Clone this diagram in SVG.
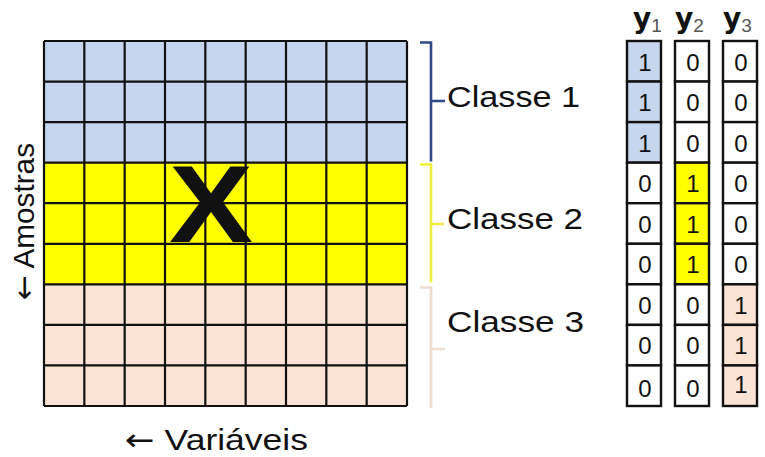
<svg xmlns="http://www.w3.org/2000/svg" width="765" height="457" viewBox="0 0 765 457">
<style>
.grid{fill:none;stroke:#111;stroke-width:2.2}
.cell{stroke:#111;stroke-width:2.4}
.dig{font-family:"Liberation Sans",Arial,sans-serif;font-size:24px;fill:#111;text-anchor:middle}
.lbl{font-family:"Liberation Sans",Arial,sans-serif;font-size:30px;fill:#111}
.arr{font-family:"DejaVu Sans",sans-serif;font-weight:normal}
.hy{font-family:"DejaVu Sans",sans-serif;font-weight:bold;font-size:28px;fill:#111}
.hs{font-family:"Liberation Sans",Arial,sans-serif;font-size:19px;fill:#555}
.br{fill:none;stroke-width:2.6;stroke-linejoin:miter}
.blue{fill:#C6D6EE}
.yel{fill:#FFFF00}
.pink{fill:#FBE4D6}
.wh{fill:#FFFFFF}
</style>
<rect width="765" height="457" fill="#FFFFFF"/>
<g id="matrix-X">
<rect x="44" y="41" width="363" height="121.67" class="blue"/>
<rect x="44" y="162.67" width="363" height="121.67" class="yel"/>
<rect x="44" y="284.33" width="363" height="121.67" class="pink"/>
<path class="grid" d="M44 41V406M84.33 41V406M124.67 41V406M165 41V406M205.33 41V406M245.67 41V406M286 41V406M326.33 41V406M366.67 41V406M407 41V406M44 41H407M44 81.56H407M44 122.11H407M44 162.67H407M44 203.22H407M44 243.78H407M44 284.33H407M44 324.89H407M44 365.44H407M44 406H407"/>
<text x="211" y="242" font-family="Liberation Sans,Arial,sans-serif" font-weight="bold" font-size="110" fill="#111" text-anchor="middle" textLength="84" lengthAdjust="spacingAndGlyphs">X</text>
</g>
<g id="axis-amostras">
<text class="lbl" transform="translate(34,300) rotate(-90)" textLength="157" lengthAdjust="spacingAndGlyphs"><tspan class="arr">←</tspan> Amostras</text>
</g>
<g id="axis-variaveis">
<text class="lbl" x="125" y="450" font-size="28" textLength="183" lengthAdjust="spacingAndGlyphs"><tspan class="arr">←</tspan> Variáveis</text>
</g>
<g id="connectors">
<path class="br" stroke="#2E4A88" d="M420 42.5H431V161.5M431 101H445"/>
<path class="br" stroke="#F0F03C" d="M420 164.5H431V282.5M431 224H444"/>
<path class="br" stroke="#F0DDD2" d="M420 287.5H431V408M431 349H445"/>
</g>
<g id="classe1"><text class="lbl" x="447" y="107" textLength="133" lengthAdjust="spacingAndGlyphs">Classe 1</text></g>
<g id="classe2"><text class="lbl" x="447" y="229" textLength="136" lengthAdjust="spacingAndGlyphs">Classe 2</text></g>
<g id="classe3"><text class="lbl" x="447" y="332" textLength="137" lengthAdjust="spacingAndGlyphs">Classe 3</text></g>
<g id="y1">
<text x="633" y="28"><tspan class="hy">y</tspan><tspan class="hs" dy="4">1</tspan></text>
<rect class="cell blue" x="627" y="41" width="34" height="40.56"/>
<rect class="cell blue" x="627" y="81.56" width="34" height="40.56"/>
<rect class="cell blue" x="627" y="122.11" width="34" height="40.56"/>
<rect class="cell wh" x="627" y="162.67" width="34" height="40.56"/>
<rect class="cell wh" x="627" y="203.22" width="34" height="40.56"/>
<rect class="cell wh" x="627" y="243.78" width="34" height="40.56"/>
<rect class="cell wh" x="627" y="284.33" width="34" height="40.56"/>
<rect class="cell wh" x="627" y="324.89" width="34" height="40.56"/>
<rect class="cell wh" x="627" y="365.44" width="34" height="40.56"/>
<text class="dig" x="645" y="71">1</text>
<text class="dig" x="645" y="111">1</text>
<text class="dig" x="645" y="152">1</text>
<text class="dig" x="645" y="192">0</text>
<text class="dig" x="645" y="233">0</text>
<text class="dig" x="645" y="273">0</text>
<text class="dig" x="645" y="314">0</text>
<text class="dig" x="645" y="354">0</text>
<text class="dig" x="645" y="397" font-size="26">0</text>
</g>
<g id="y2">
<text x="675" y="28"><tspan class="hy">y</tspan><tspan class="hs" dy="4">2</tspan></text>
<rect class="cell wh" x="675" y="41" width="34" height="40.56"/>
<rect class="cell wh" x="675" y="81.56" width="34" height="40.56"/>
<rect class="cell wh" x="675" y="122.11" width="34" height="40.56"/>
<rect class="cell yel" x="675" y="162.67" width="34" height="40.56"/>
<rect class="cell yel" x="675" y="203.22" width="34" height="40.56"/>
<rect class="cell yel" x="675" y="243.78" width="34" height="40.56"/>
<rect class="cell wh" x="675" y="284.33" width="34" height="40.56"/>
<rect class="cell wh" x="675" y="324.89" width="34" height="40.56"/>
<rect class="cell wh" x="675" y="365.44" width="34" height="40.56"/>
<text class="dig" x="693" y="71">0</text>
<text class="dig" x="693" y="111">0</text>
<text class="dig" x="693" y="152">0</text>
<text class="dig" x="693" y="192">1</text>
<text class="dig" x="693" y="233">1</text>
<text class="dig" x="693" y="273">1</text>
<text class="dig" x="693" y="314">0</text>
<text class="dig" x="693" y="354">0</text>
<text class="dig" x="693" y="397" font-size="26">0</text>
</g>
<g id="y3">
<text x="723" y="28"><tspan class="hy">y</tspan><tspan class="hs" dy="4">3</tspan></text>
<rect class="cell wh" x="723" y="41" width="34" height="40.56"/>
<rect class="cell wh" x="723" y="81.56" width="34" height="40.56"/>
<rect class="cell wh" x="723" y="122.11" width="34" height="40.56"/>
<rect class="cell wh" x="723" y="162.67" width="34" height="40.56"/>
<rect class="cell wh" x="723" y="203.22" width="34" height="40.56"/>
<rect class="cell wh" x="723" y="243.78" width="34" height="40.56"/>
<rect class="cell pink" x="723" y="284.33" width="34" height="40.56"/>
<rect class="cell pink" x="723" y="324.89" width="34" height="40.56"/>
<rect class="cell pink" x="723" y="365.44" width="34" height="40.56"/>
<text class="dig" x="741" y="71">0</text>
<text class="dig" x="741" y="111">0</text>
<text class="dig" x="741" y="152">0</text>
<text class="dig" x="741" y="192">0</text>
<text class="dig" x="741" y="233">0</text>
<text class="dig" x="741" y="273">0</text>
<text class="dig" x="741" y="314">1</text>
<text class="dig" x="741" y="354">1</text>
<text class="dig" x="741" y="393">1</text>
</g>
</svg>
